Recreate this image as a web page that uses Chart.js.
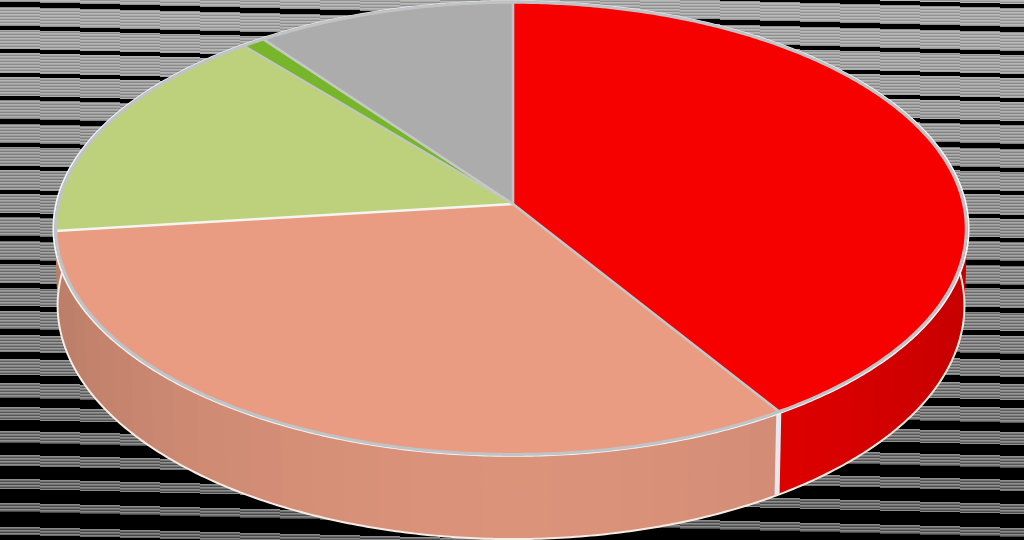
<!DOCTYPE html>
<html>
<head>
<meta charset="utf-8">
<title>Pie</title>
<script src="https://cdn.jsdelivr.net/npm/chart.js@4"></script>
<style>
  html, body { margin: 0; padding: 0; background: #000; }
  canvas { display: block; }
</style>
</head>
<body>
<canvas id="pie" width="1024" height="540"></canvas>
<script>
// ================= DATA =================
const categories = ["Slice 1", "Slice 2", "Slice 3", "Slice 4", "Slice 5"];
const shares = [41.0, 32.1, 15.8, 0.9, 10.2];
const sliceColors = [[246, 0, 0], [233, 156, 130], [189, 208, 124], [119, 181, 42], [172, 172, 172]];
// edge drawn at the start of each slice
const edgeColors = ["#c2c4c6", "#c4c6c8", "#f4f4f0", "#c0c8b8", "#c6c8c8"];
// the wall behind the left corner keeps the colour of slice 2
const wallSlice = [0, 1, 1, 1, 1];

// ================= PROJECTION =================
const hubX = 513, hubY = 204;
const radX = 453.5, radY = 223.9, persp = 0.108;
const depth = 77, depthPersp = 0.006;

function topPoint(a, r = 1) {
  const u = Math.cos(a) * r, v = Math.sin(a) * r;
  const w = 1 - persp * v;
  return [hubX + radX * u / w - 2 * (1 - v * v), hubY + radY * v / w];
}

function bottomPoint(a) {
  const u = Math.cos(a), v = Math.sin(a);
  const w = 1 - persp * v + depthPersp;
  return [hubX + radX * u / w - 2 * (1 - v * v), hubY + (radY * v + depth) / w];
}

function rgb(c, f = 1) {
  return `rgb(${Math.round(c[0] * f)},${Math.round(c[1] * f)},${Math.round(c[2] * f)})`;
}

function rimPath(ctx, from, to, pointFn, r) {
  const steps = Math.max(2, Math.ceil(Math.abs(to - from) / 0.01));
  for (let i = 0; i <= steps; i++) {
    const p = pointFn(from + (to - from) * i / steps, r);
    ctx.lineTo(p[0], p[1]);
  }
}

// ================= BACKGROUND =================
function stripeGrey(row) {
  const t = Math.min(1, Math.max(0, row / 540));
  const light = 186 - 50 * t, dark = 146 - 78 * t;
  const m = ((row % 3) + 3) % 3;
  return m === 0 ? dark : m === 1 ? light : (light + dark) / 2 + 6;
}

function drawStripes(ctx, w, h) {
  const slope = 0.025, period = 23.4, chunk = 40;
  for (let x = 0; x < w; x += chunk) {
    const dy = Math.round((x + chunk / 2) * slope);
    for (let y = 0; y < h; y++) {
      const row = y - dy;
      const thick = row < 280 ? 4.2 : 4.2 + (row - 280) * 0.045;
      const phase = (((row - 3) % period) + period) % period;
      const inBand = phase < thick / 2 || phase > period - thick / 2;
      const g = inBand ? 0 : Math.round(stripeGrey(row));
      ctx.fillStyle = `rgb(${g},${g},${g})`;
      ctx.fillRect(x, y, chunk, 1);
    }
  }
}

// ================= PIE DRAWING =================
const pie3d = {
  id: "pie3d",
  beforeDraw(chart) {
    drawStripes(chart.ctx, chart.width, chart.height);
  },
  beforeDatasetsDraw(chart) {
    const ctx = chart.ctx;
    const arcs = chart.getDatasetMeta(0).data;
    ctx.save();
    ctx.lineJoin = "round";

    // side wall, in bands that overlap a little so no seams show
    arcs.forEach((arc, i) => {
      const band = 4 * Math.PI / 180;
      for (let a = arc.startAngle; a < arc.endAngle; a += band) {
        const b = Math.min(a + band, arc.endAngle);
        if (Math.sin((a + b) / 2) < -0.1) continue;
        const u = Math.cos((a + b) / 2);
        ctx.fillStyle = rgb(sliceColors[wallSlice[i]], 0.94 - 0.14 * u * u);
        ctx.beginPath();
        rimPath(ctx, a, b + 0.012, topPoint);
        rimPath(ctx, b + 0.012, a, bottomPoint);
        ctx.closePath();
        ctx.fill();
      }
    });

    // pale edge along the bottom of the wall
    ctx.strokeStyle = "#f6ece4";
    ctx.lineWidth = 2;
    ctx.beginPath();
    rimPath(ctx, -0.22, Math.PI + 0.22, bottomPoint);
    ctx.stroke();

    // divider between the two visible wall pieces
    const split = arcs[0].endAngle;
    const s0 = topPoint(split), s1 = bottomPoint(split);
    ctx.strokeStyle = "#e6e8ee";
    ctx.lineWidth = 5;
    ctx.beginPath();
    ctx.moveTo(s0[0] - 1, s0[1]);
    ctx.lineTo(s1[0] - 1, s1[1]);
    ctx.stroke();

    // top faces
    arcs.forEach((arc, i) => {
      ctx.fillStyle = rgb(sliceColors[i]);
      ctx.beginPath();
      ctx.moveTo(hubX, hubY);
      rimPath(ctx, arc.startAngle, arc.endAngle, topPoint);
      ctx.closePath();
      ctx.fill();
    });

    // spokes
    arcs.forEach((arc, i) => {
      const p = topPoint(arc.startAngle);
      ctx.strokeStyle = edgeColors[i];
      ctx.lineWidth = 2.6;
      ctx.beginPath();
      ctx.moveTo(hubX, hubY);
      ctx.lineTo(p[0], p[1]);
      ctx.stroke();
    });

    // rim: white just outside, grey inside
    const start = arcs[0].startAngle;
    ctx.strokeStyle = "#f2f3f3";
    ctx.lineWidth = 2;
    ctx.beginPath();
    rimPath(ctx, start, start + Math.PI * 2, topPoint, 1.003);
    ctx.stroke();
    ctx.strokeStyle = "#c0c3c6";
    ctx.lineWidth = 3;
    ctx.beginPath();
    rimPath(ctx, start, start + Math.PI * 2, topPoint, 0.998);
    ctx.stroke();

    ctx.restore();
    return false; // the projected faces replace the flat arcs
  }
};

// ================= CHART =================
new Chart(document.getElementById("pie"), {
  type: "pie",
  data: {
    labels: categories,
    datasets: [{ data: shares, backgroundColor: sliceColors.map(c => rgb(c)), borderWidth: 0 }]
  },
  options: {
    responsive: false,
    animation: false,
    plugins: { legend: { display: false }, tooltip: { enabled: false } }
  },
  plugins: [pie3d]
});
</script>
</body>
</html>
